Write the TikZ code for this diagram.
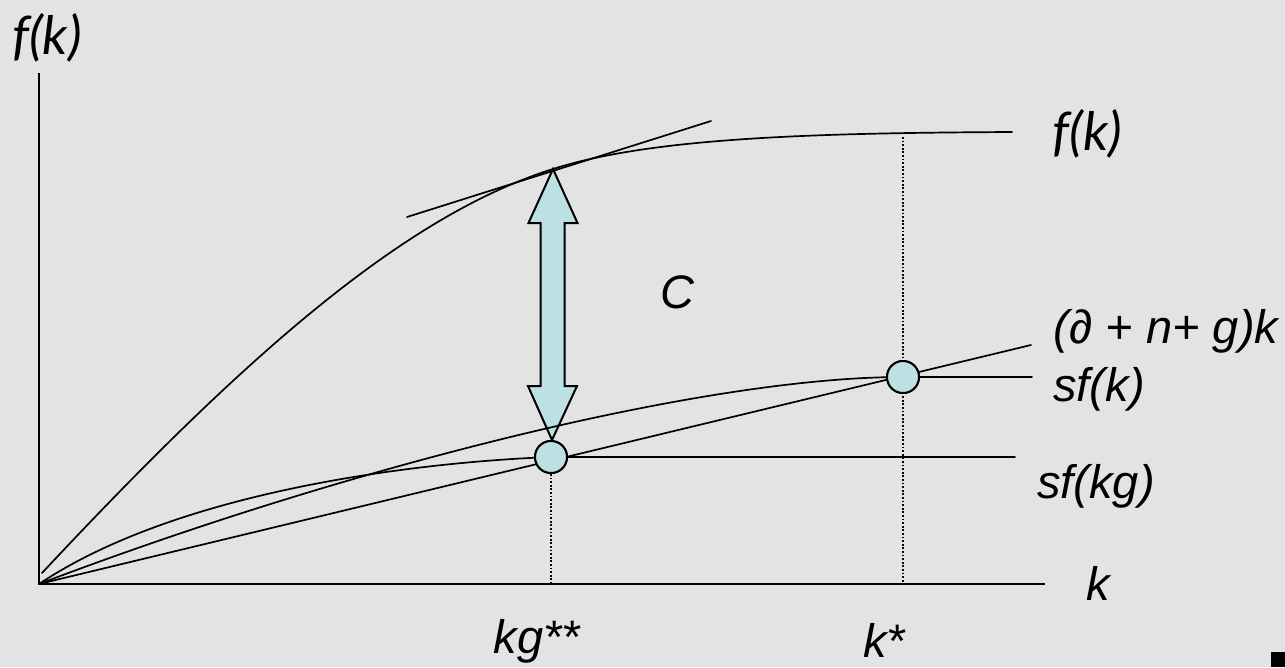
\documentclass[tikz,border=0pt]{standalone}
\usepackage{fontspec}
\setmainfont{Liberation Sans}
\newfontfamily\latofont{Lato}
\definecolor{bg}{RGB}{227,227,227}
\definecolor{aqua}{RGB}{189,224,227}
\begin{document}
\begin{tikzpicture}[x=1pt,y=-1pt,
  axis/.style={line width=2.4pt},
  curve/.style={line width=1.7pt, line cap=round},
  dotline/.style={line width=1.7pt, dash pattern=on 1.8pt off 1.8pt},
  ball/.style={circle, draw, line width=2pt, fill=aqua, minimum size=32pt, inner sep=0pt},
  lbl/.style={font=\fontsize{47}{56}\selectfont\itshape, inner sep=0pt},
  lblb/.style={font=\fontsize{53}{60}\selectfont\latofont\itshape, inner sep=0pt},
  dblarrow/.style={draw, line width=2pt, fill=aqua, line join=miter}
]
\fill[bg] (0,0) rectangle (1285,667);
\useasboundingbox (0,0) rectangle (1285,667);

% key coordinates
\coordinate (O) at (39,584);
\coordinate (Ytop) at (39,73);
\coordinate (Xend) at (1045,584);
\coordinate (F0) at (42,573);
\coordinate (Ftan) at (553,169);
\coordinate (Fend) at (1012,132);
\coordinate (Tan1) at (407,217);
\coordinate (Tan2) at (711,121);
\coordinate (LineEnd) at (1031,345);
\coordinate (A1) at (551,584);
\coordinate (A2) at (903,584);
\coordinate (T2) at (903,137);

% axes
\draw[axis] (Ytop) -- (O) -- (Xend);

% double arrow C
\draw[dblarrow] (553,169) -- (577.5,223) -- (564.5,223) -- (564.5,386) -- (577,386)
  -- (552,440) -- (528,386) -- (540.5,386) -- (540.5,223) -- (528.5,223) -- cycle;

% equilibrium points (positions)
\node[ball] (E1) at (551,457) {};
\node[ball] (E2) at (903,377) {};

% f(k)
\draw[curve] (F0) .. controls (242,359) and (403,216) .. (Ftan)
  .. controls (653,137) and (820,133) .. (Fend);
% tangent
\draw[curve] (Tan1) -- (Tan2);
% sf(k)
\draw[curve] (O) .. controls (339,470) and (700,377) .. (E2.center) -- (1032,377);
% sf(kg)
\draw[curve] (O) .. controls (180,490) and (420,462) .. (E1.center) -- (1015,457);
% (d+n+g)k
\draw[curve] (O) -- (LineEnd);

% dotted guides
\draw[dotline] (T2) -- (A2);

% redraw equilibrium points on top
\node[ball] at (E1) {};
\node[ball] at (E2) {};
\draw[dotline] (E1.south) -- (A1);

% labels
\node[lblb] (Lfy) at (47,38) {f(k)};
\node[lblb] (Lf) at (1087,134) {f(k)};
\node[lbl] (Lline) at (1166,331) {(∂ + n+ g)k};
\node[lbl] (Lsfk) at (1099,389) {sf(k)};
\node[lbl] (Lsfkg) at (1096,486) {sf(kg)};
\node[lbl] (Lk) at (1098,583) {k};
\node[lbl] (Lkg) at (537,641) {kg**};
\node[lbl] (Lks) at (884,640) {k*};
\node[lbl] (LC) at (677,292) {C};

% corner mark
\fill (1271,652) rectangle (1285,667);
\end{tikzpicture}
\end{document}
